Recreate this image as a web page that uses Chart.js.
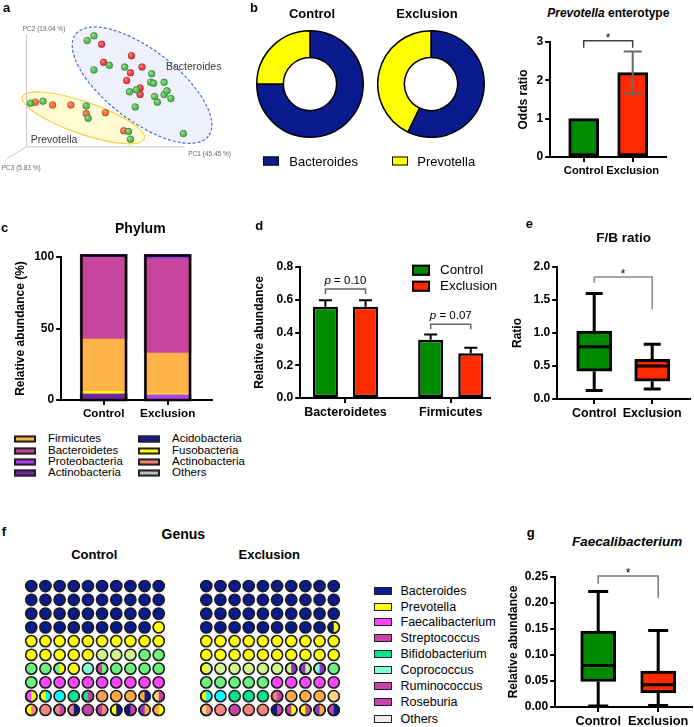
<!DOCTYPE html>
<html><head><meta charset="utf-8">
<script src="https://cdn.jsdelivr.net/npm/chart.js"></script>
<style>
html,body{margin:0;padding:0;background:#fff;}
body{position:relative;width:694px;height:727px;overflow:hidden;font-family:'Liberation Sans',Arial,Helvetica,sans-serif;color:#000;}
.t{position:absolute;white-space:nowrap;line-height:1;}
.c{transform:translate(-50%,-50%);}
.l{transform:translate(0,-50%);}
.bx{position:absolute;box-sizing:border-box;transform:translate(0,-50%);}
canvas{position:absolute;}
</style></head><body>
<script>
// ===================== DATA =====================
// a: PCA (projected coordinates, arbitrary units)
const pcaBacteroidesControl = [[86,137],[93,142],[93,106],[109,111],[125,109],[153,102],[152,93],[155,92],[166,93],[130,83],[137,85],[156,78],[166,80],[169,84],[173,76],[159,72],[136,67],[186,39]];
const pcaBacteroidesExclusion = [[101,133],[132,121],[103,114],[143,109],[131,103],[127,95],[141,87],[141,80]];
const pcaPrevotellaControl = [[27,71],[40,73],[85,68],[87,55],[129,41],[131,33]];
const pcaPrevotellaExclusion = [[32,72],[50,69],[69,69],[85,60],[105,61],[124,42]];
const pcaAxisLabels = ['PC1 (45.45 %)', 'PC2 (19.04 %)', 'PC3 (5.83 %)'];

// b: enterotype counts
const enterotypes = ['Bacteroides', 'Prevotella'];
const enterotypeControl = [18, 6];
const enterotypeExclusion = [8, 6];
const groups = ['Control', 'Exclusion'];
const oddsRatio = [1, 2.2];
const oddsLow = [null, 1.65];
const oddsHigh = [null, 2.75];

// c: phylum stacked (%), bottom to top
const phylumLayers = ['Actinobacteria', 'Proteobacteria', 'Fusobacteria', 'Firmicutes', 'Bacteroidetes', 'Proteobacteria (top)'];
const phylumControl = [4.2, 0, 1.9, 36.5, 57.2, 2.1];
const phylumExclusion = [0, 3.7, 0.7, 28.4, 65.6, 3.5];
const phylumLegend1 = ['Firmicutes', 'Bacteroidetes', 'Proteobacteria', 'Actinobacteria'];
const phylumLegend2 = ['Acidobacteria', 'Fusobacteria', 'Actinobacteria', 'Others'];

// d: relative abundance
const dCategories = ['Bacteroidetes', 'Firmicutes'];
const dControl = [0.557, 0.355];
const dControlTop = [0.597, 0.388];
const dExclusion = [0.557, 0.274];
const dExclusionTop = [0.597, 0.307];
const dPValues = ['0.10', '0.07'];

// e: F/B ratio box plot
const fbMin = [0.13, 0.15], fbQ1 = [0.42, 0.27], fbMed = [0.79, 0.50], fbQ3 = [1.03, 0.60], fbMax = [1.60, 0.83];

// g: Faecalibacterium box plot
const faMin = [0.002, 0.003], faQ1 = [0.049, 0.027], faMed = [0.080, 0.043], faQ3 = [0.146, 0.069], faMax = [0.222, 0.147];

// f: genus waffle (left/right halves)
const genusLegend = ['Bacteroides','Prevotella','Faecalibacterium','Streptococcus','Bifidobacterium','Coprococcus','Ruminococcus','Roseburia','Others'];
const genusControlGrid = [
 'B B B B B B B B B B',
 'B B B B B B B B B B',
 'B B B B B B B B B B',
 'B B B B B B B B B Y',
 'Y Y Y Y Y Y Y Y Y Y',
 'Y Y Y Y Y L L L G G',
 'G G G/Y Y A P/G G G G G',
 'G M M M M M M M M M',
 'M/Y Y/C C T T/P R O O O/B N/P',
 'Y/S S S/P S/B P P/S Y/B B/P V/O O/Y'
];
const genusExclusionGrid = [
 'B B B B B B B B B B',
 'B B B B B B B B B B',
 'B B B B B B B B B B',
 'B B B B B B B B B B/Y',
 'Y Y Y Y Y Y Y Y Y Y',
 'Y Y Y Y Y Y Y Y Y Y',
 'Y/L L L L L L L/V V/L A/V G',
 'G G G G G M M M M M',
 'Y/C C T T T S/P O O O N',
 'N/S S P S S B/P P/Y Y/P V/O P/B'
];

// ===================== STYLE =====================
const FONT = "'Liberation Sans', Arial, Helvetica, sans-serif";
const GREEN = '#008a00', RED = '#ff2a00', NAVY = '#0a1b8f', YELLOW = '#ffff00';
const phylumColors = ['#7422aa', '#b83cf8', '#ffff00', '#ffb449', '#c8469e', '#9438cc'];
const phylumLegendColors1 = ['#ffb449', '#c8469e', '#b83cf8', '#7422aa'];
const phylumLegendColors2 = ['#16169a', '#ffff00', '#f4806e', '#bdbdbd'];
const waffleColors = { B:'#0b1a8c', Y:'#ffff00', L:'#d2f58c', G:'#6cf27c', M:'#ff44ff', P:'#c445a6', T:'#00e68c', A:'#80ffd8', C:'#00ffff', O:'#ffaa44', R:'#f4a060', S:'#f4857c', N:'#ffd27f', V:'#8a36c8' };
const genusLegendColors = ['#0b1a8c','#ffff00','#ff44ff','#c445a6','#00e68c','#80ffd8','#c445a6','#c445a6','#eeeeee'];

Chart.defaults.font.family = FONT;
Chart.defaults.color = '#000';
Chart.defaults.animation = false;
Chart.defaults.events = [];
Chart.defaults.plugins.legend.display = false;
Chart.defaults.plugins.tooltip.enabled = false;

// ===================== HELPERS =====================
function mkCanvas(id, left, top, w, h) {
  const c = document.createElement('canvas');
  c.id = id; c.width = w; c.height = h;
  c.style.left = left + 'px'; c.style.top = top + 'px';
  c.style.width = w + 'px'; c.style.height = h + 'px';
  document.body.appendChild(c); return c;
}
function addText(html, x, y, css, anchor) {
  const d = document.createElement('div');
  d.className = 't ' + (anchor || 'c');
  d.innerHTML = html;
  d.setAttribute('style', `left:${x}px;top:${y}px;${css || ''}`);
  document.body.appendChild(d);
}
function addBox(x, yc, w, h, color, bw, bc) {
  const d = document.createElement('div');
  d.className = 'bx';
  d.setAttribute('style', `left:${x}px;top:${yc}px;width:${w}px;height:${h}px;background:${color};border:${bw}px solid ${bc};`);
  document.body.appendChild(d);
}
function frame(areaL, areaT, areaR, areaB, titleCX) {
  const left = titleCX - 7.2, top = areaT - 22;
  const right = Math.min(areaR + 12, 694), bottom = areaB + 24;
  const w = Math.round(right - left), h = Math.round(bottom - top);
  return { left, top, w, h, yW: areaL - left, padTop: areaT - top, padRight: left + w - areaR, xH: top + h - areaB };
}
function yAx(min, max, step, dec, title, yW) {
  return { type: 'linear', min, max, afterFit: s => { s.width = yW; },
    ticks: { stepSize: step, callback: v => Number(v).toFixed(dec), font: { size: 12, weight: 'bold' }, color: '#000', padding: 2 },
    grid: { drawOnChartArea: false, drawTicks: true, tickLength: 5, tickWidth: 2, lineWidth: 2, color: '#000' },
    border: { display: true, color: '#000', width: 2 },
    title: { display: true, text: title, font: { size: 12, weight: 'bold' }, color: '#000', padding: 0 } };
}
function xAx(min, max, labels, xH, fs) {
  return { type: 'linear', min, max, offset: false, afterFit: s => { s.height = xH; },
    afterBuildTicks: s => { s.ticks = labels.map((_, i) => ({ value: i })); },
    ticks: { callback: v => (labels[Math.round(v)] !== undefined ? labels[Math.round(v)] : ''), autoSkip: false, maxRotation: 0, minRotation: 0, font: { size: fs || 12, weight: 'bold' }, color: '#000', padding: 2 },
    grid: { offset: false, drawOnChartArea: false, drawTicks: true, tickLength: 5, tickWidth: 2, lineWidth: 2, color: '#000' },
    border: { display: true, color: '#000', width: 2 } };
}
function layoutOf(f) { return { padding: { top: f.padTop, right: f.padRight, left: 0, bottom: 0 } }; }

// ----- plugins -----
function makeErrors(items) {
  return { id: 'errs', afterDatasetsDraw(chart) {
    const ctx = chart.ctx, ys = chart.scales.y;
    items.forEach(it => {
      const el = chart.getDatasetMeta(it.ds).data[it.idx]; if (!el) return;
      const x = el.x, yl = ys.getPixelForValue(it.lo), yh = ys.getPixelForValue(it.hi);
      ctx.save(); ctx.strokeStyle = it.color; ctx.lineWidth = it.lw; ctx.beginPath();
      ctx.moveTo(x, yl); ctx.lineTo(x, yh);
      ctx.moveTo(x - it.cap / 2, yh); ctx.lineTo(x + it.cap / 2, yh);
      if (it.capLo) { ctx.moveTo(x - it.cap / 2, yl); ctx.lineTo(x + it.cap / 2, yl); }
      ctx.stroke(); ctx.restore();
    });
  } };
}
function makeBrackets(items) {
  return { id: 'brackets', afterDraw(chart) {
    const ctx = chart.ctx, xs = chart.scales.x, ys = chart.scales.y;
    const px = r => (typeof r === 'number') ? xs.getPixelForValue(r) : chart.getDatasetMeta(r[0]).data[r[1]].x;
    items.forEach(it => {
      const x1 = px(it.x1), x2 = px(it.x2);
      const y = ys.getPixelForValue(it.y), y1 = ys.getPixelForValue(it.y1), y2 = ys.getPixelForValue(it.y2);
      ctx.save(); ctx.strokeStyle = it.color; ctx.lineWidth = it.lw || 1.5; ctx.beginPath();
      ctx.moveTo(x1, y1); ctx.lineTo(x1, y); ctx.lineTo(x2, y); ctx.lineTo(x2, y2); ctx.stroke();
      const cx = (x1 + x2) / 2;
      ctx.fillStyle = '#000';
      if (it.star) {
        ctx.font = `12px ${FONT}`; ctx.textAlign = 'center'; ctx.textBaseline = 'alphabetic';
        ctx.fillText('*', cx, y + 1.5);
      } else if (it.p) {
        ctx.textBaseline = 'middle'; ctx.textAlign = 'left';
        ctx.font = `italic 11.5px ${FONT}`; const w1 = ctx.measureText('p').width;
        ctx.font = `11.5px ${FONT}`; const rest = ' = ' + it.p; const w2 = ctx.measureText(rest).width;
        const sx = cx - (w1 + w2) / 2, ty = y - 8.5;
        ctx.font = `italic 11.5px ${FONT}`; ctx.fillText('p', sx, ty);
        ctx.font = `11.5px ${FONT}`; ctx.fillText(rest, sx + w1, ty);
      }
      ctx.restore();
    });
  } };
}
function makeBox(q) {
  return { id: 'boxw', afterDatasetsDraw(chart) {
    const ctx = chart.ctx, ys = chart.scales.y, Y = v => ys.getPixelForValue(v);
    chart.getDatasetMeta(0).data.forEach((el, i) => {
      const x = el.x, hw = el.width / 2;
      ctx.save(); ctx.strokeStyle = '#000'; ctx.lineWidth = q.lw; ctx.beginPath();
      ctx.moveTo(x, Y(q.q3[i])); ctx.lineTo(x, Y(q.max[i]));
      ctx.moveTo(x - q.cap / 2, Y(q.max[i])); ctx.lineTo(x + q.cap / 2, Y(q.max[i]));
      ctx.moveTo(x, Y(q.q1[i])); ctx.lineTo(x, Y(q.min[i]));
      ctx.moveTo(x - q.cap / 2, Y(q.min[i])); ctx.lineTo(x + q.cap / 2, Y(q.min[i]));
      ctx.stroke();
      ctx.beginPath(); ctx.moveTo(x - hw + 1, Y(q.med[i])); ctx.lineTo(x + hw - 1, Y(q.med[i])); ctx.stroke();
      ctx.restore();
    });
  } };
}
function makeStackOutline(totals, lw) {
  return { id: 'stackOutline', afterDatasetsDraw(chart) {
    const ctx = chart.ctx, ys = chart.scales.y;
    chart.getDatasetMeta(0).data.forEach((el, i) => {
      const x0 = el.x - el.width / 2, top = ys.getPixelForValue(totals[i]), bot = ys.getPixelForValue(0);
      ctx.save(); ctx.strokeStyle = '#000'; ctx.lineWidth = lw;
      ctx.strokeRect(x0 + lw / 2, top + lw / 2, el.width - lw, bot - top - lw / 2);
      ctx.restore();
    });
  } };
}
function makePCA(cfg) {
  return { id: 'pca', beforeDatasetsDraw(chart) {
    const ctx = chart.ctx, X = v => chart.scales.x.getPixelForValue(v), Y = v => chart.scales.y.getPixelForValue(v);
    ctx.save();
    cfg.ellipses.forEach(e => {
      const cx = X(e.cx), cy = Y(e.cy);
      const rx = Math.abs(X(e.cx + e.a) - cx), ry = Math.abs(Y(e.cy + e.b) - cy);
      ctx.beginPath(); ctx.ellipse(cx, cy, rx, ry, -e.angle * Math.PI / 180, 0, Math.PI * 2);
      ctx.fillStyle = e.fill; ctx.fill();
      ctx.setLineDash(e.dash); ctx.strokeStyle = e.stroke; ctx.lineWidth = 1.2; ctx.stroke();
    });
    ctx.setLineDash([]);
    const f = cfg.frame;
    ctx.strokeStyle = '#c4c4c4'; ctx.lineWidth = 1; ctx.beginPath();
    ctx.moveTo(X(f.top[0]), Y(f.top[1])); ctx.lineTo(X(f.origin[0]), Y(f.origin[1])); ctx.lineTo(X(f.right[0]), Y(f.right[1]));
    ctx.moveTo(X(f.origin[0]), Y(f.origin[1])); ctx.lineTo(X(f.depth[0]), Y(f.depth[1]));
    ctx.stroke(); ctx.restore();
  } };
}
function makeSplit(rights, r, lw) {
  return { id: 'split', afterDatasetsDraw(chart) {
    const ctx = chart.ctx;
    chart.getDatasetMeta(0).data.forEach((pt, i) => {
      if (!rights[i]) return;
      ctx.save();
      ctx.beginPath(); ctx.arc(pt.x, pt.y, r, -Math.PI / 2, Math.PI / 2); ctx.closePath();
      ctx.fillStyle = rights[i]; ctx.fill();
      ctx.beginPath(); ctx.arc(pt.x, pt.y, r, 0, Math.PI * 2);
      ctx.lineWidth = lw; ctx.strokeStyle = '#1c1c1c'; ctx.stroke();
      ctx.restore();
    });
  } };
}

// ===================== a: PCA =====================
function sphere(base, light) {
  return c => {
    try {
      const ch = c.chart;
      if (!c.parsed || !ch.scales || !ch.scales.x || !ch.scales.y) return base;
      const px = ch.scales.x.getPixelForValue(c.parsed.x), py = ch.scales.y.getPixelForValue(c.parsed.y);
      if (!isFinite(px) || !isFinite(py)) return base;
      const g = ch.ctx.createRadialGradient(px - 1.2, py - 1.2, 0.3, px, py, 3.7);
      g.addColorStop(0, light); g.addColorStop(1, base); return g;
    } catch (e) { return base; }
  };
}
function pcaSet(label, pts, base, light) {
  return { label, data: pts.map(p => ({ x: p[0], y: p[1] })), pointRadius: 3.5, pointBorderWidth: 0.5,
    pointBorderColor: 'rgba(0,0,0,0.35)', pointBackgroundColor: sphere(base, light), showLine: false };
}
new Chart(mkCanvas('pca', 0, 0, 235, 175), {
  type: 'scatter',
  data: { datasets: [
    pcaSet('Bacteroides Control', pcaBacteroidesControl, '#36a236', '#94e08a'),
    pcaSet('Bacteroides Exclusion', pcaBacteroidesExclusion, '#d42026', '#f58078'),
    pcaSet('Prevotella Control', pcaPrevotellaControl, '#36a236', '#94e08a'),
    pcaSet('Prevotella Exclusion', pcaPrevotellaExclusion, '#e8501e', '#fb9c6c')
  ] },
  options: { responsive: false, layout: { padding: 0 },
    scales: { x: { type: 'linear', display: false, min: 0, max: 235 }, y: { type: 'linear', display: false, min: 0, max: 175 } } },
  plugins: [makePCA({
    ellipses: [
      { cx: 143, cy: 90, a: 87, b: 37.4, angle: -37.5, fill: '#eef0fb', stroke: '#5566cc', dash: [3, 2] },
      { cx: 82, cy: 55.5, a: 67, b: 17, angle: -19, fill: '#fffad2', stroke: '#f3d24c', dash: [] }
    ],
    frame: { origin: [23, 25], top: [23, 143.3], right: [187, 25], depth: [1.7, 12] }
  })]
});
addText('Bacteroides', 166, 65.7, "font-family:'Liberation Sans Narrow','Liberation Sans',Arial;font-size:10.5px;color:#3a3a3a;", 'l');
addText('Prevotella', 30.7, 139.3, "font-family:'Liberation Sans Narrow','Liberation Sans',Arial;font-size:10.5px;color:#3a3a3a;", 'l');
addText(pcaAxisLabels[1], 22.7, 29.3, 'font-size:6.5px;color:#666;', 'l');
addText(pcaAxisLabels[0], 188.3, 154.3, 'font-size:6.5px;color:#666;', 'l');
addText(pcaAxisLabels[2], 1.7, 167.7, 'font-size:6.5px;color:#666;', 'l');

// ===================== b: doughnuts =====================
function donut(id, left, vals) {
  new Chart(mkCanvas(id, left, 30, 108, 108), {
    type: 'doughnut',
    data: { labels: enterotypes, datasets: [{ data: vals, backgroundColor: [NAVY, YELLOW], borderColor: '#000', borderWidth: 1.5 }] },
    options: { responsive: false, cutout: '50%', layout: { padding: 0 } }
  });
}
donut('donutControl', 256, enterotypeControl);
donut('donutExclusion', 377, enterotypeExclusion);
addText('Control', 312, 12.7, 'font-size:13px;font-weight:bold;');
addText('Exclusion', 427, 12.7, 'font-size:13px;font-weight:bold;');
addBox(262.7, 161.2, 16.6, 9, NAVY, 1.5, '#000');
addText(enterotypes[0], 289.3, 161.2, 'font-size:13px;', 'l');
addBox(391.7, 161.2, 16.6, 9, YELLOW, 1.5, '#000');
addText(enterotypes[1], 417.3, 161.2, 'font-size:13px;', 'l');

// ===================== b: odds ratio =====================
const fo = frame(550, 42, 666, 157, 523);
new Chart(mkCanvas('odds', fo.left, fo.top, fo.w, fo.h), {
  type: 'bar',
  data: { datasets: [{ label: 'Odds ratio', data: groups.map((g, i) => ({ x: i, y: oddsRatio[i] })),
    backgroundColor: [GREEN, RED], borderColor: '#000', borderWidth: 3, borderSkipped: false, barThickness: 30 }] },
  options: { responsive: false, layout: layoutOf(fo),
    scales: { x: xAx(-0.684, 1.684, groups, fo.xH, 11.2), y: yAx(0, 3, 1, 0, 'Odds ratio', fo.yW) } },
  plugins: [
    makeErrors(groups.map((g, i) => oddsLow[i] === null ? null : { ds: 0, idx: i, lo: oddsLow[i], hi: oddsHigh[i], color: '#6a6a6a', lw: 2, cap: 18, capLo: true }).filter(Boolean)),
    makeBrackets([{ x1: 0, x2: 1, y: 3.03, y1: 2.85, y2: 2.85, star: true, color: '#444', lw: 1.5 }])
  ]
});
addText('<i>Prevotella</i> enterotype', 608.3, 12.7, 'font-size:12px;font-weight:bold;');

// ===================== c: phylum =====================
const fc = frame(61, 257, 212, 400, 20);
const phylumTotals = [phylumControl.reduce((a, b) => a + b, 0), phylumExclusion.reduce((a, b) => a + b, 0)];
new Chart(mkCanvas('phylum', fc.left, fc.top, fc.w, fc.h), {
  type: 'bar',
  data: { datasets: phylumLayers.map((name, i) => ({ label: name,
    data: [{ x: 0, y: phylumControl[i] }, { x: 1, y: phylumExclusion[i] }],
    backgroundColor: phylumColors[i], borderWidth: 0, barThickness: 47, clip: false })) },
  options: { responsive: false, layout: layoutOf(fc),
    scales: { x: Object.assign(xAx(-0.664, 1.695, groups, fc.xH, 11.7), { stacked: true }),
              y: Object.assign(yAx(0, 100, 50, 0, 'Relative abundance (%)', fc.yW), { stacked: true }) } },
  plugins: [makeStackOutline(phylumTotals, 2.5)]
});
addText('Phylum', 140.3, 228.3, 'font-size:14px;font-weight:bold;');
const legRows = [439.2, 450.6, 462, 473.4];
phylumLegend1.forEach((n, i) => { addBox(14, legRows[i], 22, 7, phylumLegendColors1[i], 2, '#222'); addText(n, 48, legRows[i], 'font-size:11.5px;', 'l'); });
phylumLegend2.forEach((n, i) => { addBox(138, legRows[i], 22, 7, phylumLegendColors2[i], 2, '#222'); addText(n, 172, legRows[i], 'font-size:11.5px;', 'l'); });

// ===================== d: relative abundance =====================
const fd = frame(300, 267, 490, 398, 259);
const dErr = [];
dCategories.forEach((c, i) => {
  dErr.push({ ds: 0, idx: i, lo: dControl[i], hi: dControlTop[i], color: '#000', lw: 2, cap: 13 });
  dErr.push({ ds: 1, idx: i, lo: dExclusion[i], hi: dExclusionTop[i], color: '#000', lw: 2, cap: 13 });
});
new Chart(mkCanvas('dchart', fd.left, fd.top, fd.w, fd.h), {
  type: 'bar',
  data: { datasets: [
    { label: groups[0], data: dCategories.map((c, i) => ({ x: i, y: dControl[i] })), backgroundColor: GREEN, borderColor: '#000', borderWidth: 2.5, borderSkipped: false, categoryPercentage: 0.762, barPercentage: 0.625 },
    { label: groups[1], data: dCategories.map((c, i) => ({ x: i, y: dExclusion[i] })), backgroundColor: RED, borderColor: '#000', borderWidth: 2.5, borderSkipped: false, categoryPercentage: 0.762, barPercentage: 0.625 }
  ] },
  options: { responsive: false, layout: layoutOf(fd),
    scales: { x: xAx(-0.43, 1.375, dCategories, fd.xH, 12.5), y: yAx(0, 0.8, 0.2, 1, 'Relative abundance', fd.yW) } },
  plugins: [makeErrors(dErr), makeBrackets([
    { x1: [0, 0], x2: [1, 0], y: 0.665, y1: 0.633, y2: 0.633, p: dPValues[0], color: '#666', lw: 1.5 },
    { x1: [0, 1], x2: [1, 1], y: 0.451, y1: 0.42, y2: 0.42, p: dPValues[1], color: '#666', lw: 1.5 }
  ])]
});
addBox(411.7, 270, 18.3, 10.5, GREEN, 2.5, '#000');
addText(groups[0], 440, 270, 'font-size:13.4px;', 'l');
addBox(411.7, 286.3, 18.3, 10.5, RED, 2.5, '#000');
addText(groups[1], 440, 286.3, 'font-size:13.4px;', 'l');

// ===================== e: F/B ratio =====================
const fe = frame(557, 267, 690, 399, 517);
new Chart(mkCanvas('echart', fe.left, fe.top, fe.w, fe.h), {
  type: 'bar',
  data: { datasets: [{ label: 'F/B ratio', data: groups.map((g, i) => ({ x: i, y: [fbQ1[i], fbQ3[i]] })),
    backgroundColor: [GREEN, RED], borderColor: '#000', borderWidth: 3, borderSkipped: false, barThickness: 35 }] },
  options: { responsive: false, layout: layoutOf(fe),
    scales: { x: xAx(-0.638, 1.655, groups, fe.xH, 12.5), y: yAx(0, 2, 0.5, 1, 'Ratio', fe.yW) } },
  plugins: [makeBox({ min: fbMin, q1: fbQ1, med: fbMed, q3: fbQ3, max: fbMax, cap: 17, lw: 3 }),
    makeBrackets([{ x1: 0, x2: 1, y: 1.85, y1: 1.76, y2: 1.36, star: true, color: '#888', lw: 1.5 }])]
});
addText('F/B ratio', 623.7, 237.7, 'font-size:13.5px;font-weight:bold;');

// ===================== f: genus waffles =====================
function waffle(id, left, grid) {
  const pts = [], lefts = [], rights = [];
  grid.forEach((row, r) => row.split(' ').forEach((code, c) => {
    const parts = code.split('/');
    pts.push({ x: c, y: r });
    lefts.push(waffleColors[parts[0]]);
    rights.push(parts[1] ? waffleColors[parts[1]] : null);
  }));
  new Chart(mkCanvas(id, left, 571.7, 156, 152), {
    type: 'scatter',
    data: { datasets: [{ label: id, data: pts, pointRadius: 5.6, pointBorderWidth: 1.6, pointBorderColor: '#1c1c1c', pointBackgroundColor: lefts, showLine: false }] },
    options: { responsive: false, layout: { padding: 0 },
      scales: { x: { type: 'linear', display: false, min: -0.5, max: 9.5 }, y: { type: 'linear', display: false, min: -0.5, max: 9.5, reverse: true } } },
    plugins: [makeSplit(rights, 5.6, 1.6)]
  });
}
waffle('waffleControl', 16.5, genusControlGrid);
waffle('waffleExclusion', 191.5, genusExclusionGrid);
addText('Genus', 183.3, 534, 'font-size:14px;font-weight:bold;');
addText('Control', 94.3, 554, 'font-size:13px;font-weight:bold;');
addText('Exclusion', 269.2, 554, 'font-size:13px;font-weight:bold;');
genusLegend.forEach((n, i) => {
  const y = i < 8 ? 590.7 + 15.85 * i : 719.3;
  addBox(374, y, 18.3, 8, genusLegendColors[i], 1.5, '#222');
  addText(n, 400.5, y, 'font-size:12.5px;', 'l');
});

// ===================== g: Faecalibacterium =====================
const fg = frame(555, 577, 692, 707, 513);
new Chart(mkCanvas('gchart', fg.left, fg.top, fg.w, fg.h), {
  type: 'bar',
  data: { datasets: [{ label: 'Faecalibacterium', data: groups.map((g, i) => ({ x: i, y: [faQ1[i], faQ3[i]] })),
    backgroundColor: [GREEN, RED], borderColor: '#000', borderWidth: 3, borderSkipped: false, barThickness: 35 }] },
  options: { responsive: false, layout: layoutOf(fg),
    scales: { x: xAx(-0.717, 1.567, groups, fg.xH, 12.8), y: yAx(0, 0.25, 0.05, 2, 'Relative abundance', fg.yW) } },
  plugins: [makeBox({ min: faMin, q1: faQ1, med: faMed, q3: faQ3, max: faMax, cap: 20, lw: 3 }),
    makeBrackets([{ x1: 0, x2: 1, y: 0.252, y1: 0.237, y2: 0.21, star: true, color: '#777', lw: 1.5 }])]
});
addText('<i>Faecalibacterium</i>', 627.2, 542.3, 'font-size:13.5px;font-weight:bold;');

// ===================== panel letters =====================
[['a', 6.7, 6.7], ['b', 254, 6.7], ['c', 4.7, 226.7], ['d', 259.3, 225], ['e', 529.3, 222.7], ['f', 4, 531], ['g', 530.7, 532.3]]
  .forEach(([t, x, y]) => addText(t, x, y, 'font-size:13px;font-weight:bold;'));
</script>
</body></html>
